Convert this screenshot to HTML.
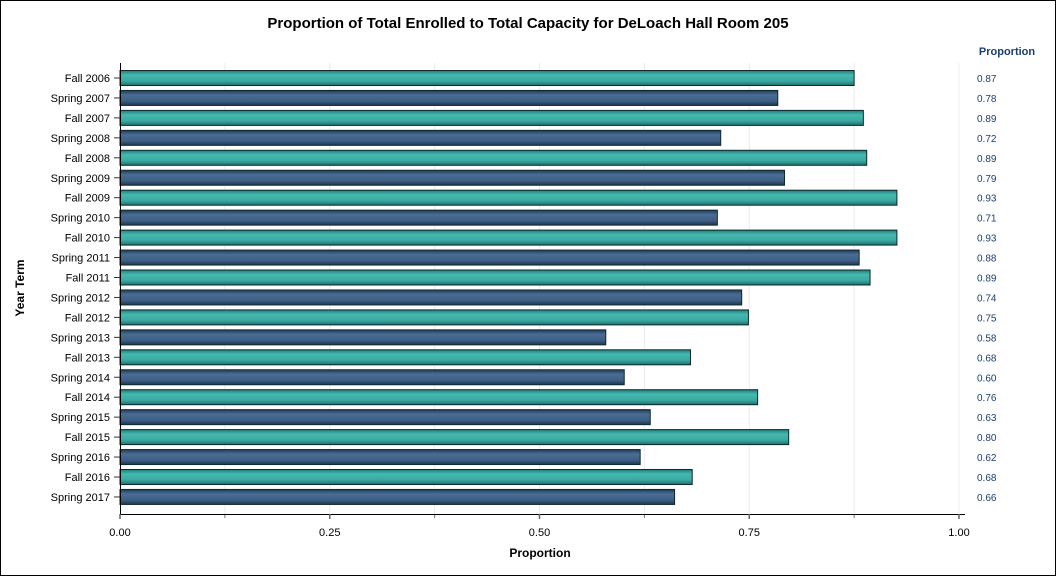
<!DOCTYPE html>
<html><head><meta charset="utf-8"><style>
body{margin:0;background:#fff;}
svg text{font-family:"Liberation Sans",sans-serif;}
</style></head><body>
<svg id="chart" width="1056" height="576">
<defs>
<linearGradient id="gT" x1="0" y1="0" x2="0" y2="1">
<stop offset="0" stop-color="#1f7d78"/><stop offset="0.3" stop-color="#45b8b0"/><stop offset="0.7" stop-color="#3aa9a1"/><stop offset="1" stop-color="#1d6f6b"/></linearGradient>
<linearGradient id="gB" x1="0" y1="0" x2="0" y2="1">
<stop offset="0" stop-color="#223b58"/><stop offset="0.3" stop-color="#4a6d93"/><stop offset="0.7" stop-color="#3d5f85"/><stop offset="1" stop-color="#1f3650"/></linearGradient>
</defs>
<rect x="0.5" y="0.5" width="1055" height="575" fill="#fff" stroke="#000"/>
<text x="528" y="28" text-anchor="middle" font-size="15" font-weight="bold">Proportion of Total Enrolled to Total Capacity for DeLoach Hall Room 205</text>
<g id="grid"></g><g id="bars"></g><g id="axes"></g>
<text x="1007" y="55" text-anchor="middle" font-size="11" font-weight="bold" fill="#1a3f6f">Proportion</text>
<text x="540" y="557" text-anchor="middle" font-size="12" font-weight="bold">Proportion</text>
<text transform="translate(24,288) rotate(-90)" text-anchor="middle" font-size="12" font-weight="bold">Year Term</text>
</svg>
<script>
const categories=["Fall 2006","Spring 2007","Fall 2007","Spring 2008","Fall 2008","Spring 2009","Fall 2009","Spring 2010","Fall 2010","Spring 2011","Fall 2011","Spring 2012","Fall 2012","Spring 2013","Fall 2013","Spring 2014","Fall 2014","Spring 2015","Fall 2015","Spring 2016","Fall 2016","Spring 2017"];
const values=[0.875,0.784,0.886,0.716,0.890,0.792,0.926,0.712,0.926,0.881,0.894,0.741,0.749,0.579,0.680,0.601,0.760,0.632,0.797,0.620,0.682,0.661];
const labels=["0.87","0.78","0.89","0.72","0.89","0.79","0.93","0.71","0.93","0.88","0.89","0.74","0.75","0.58","0.68","0.60","0.76","0.63","0.80","0.62","0.68","0.66"];
const xTicks=[0,0.25,0.5,0.75,1.0];
const xTickLabels=["0.00","0.25","0.50","0.75","1.00"];
const NS="http://www.w3.org/2000/svg";
const X0=120,X1=959,Y0=78,STEP=19.95,BH=15;
function xs(v){return X0+(X1-X0)*v;}
function ys(i){return Y0+i*STEP;}
function mk(tag,attrs,parent){const e=document.createElementNS(NS,tag);for(const k in attrs)e.setAttribute(k,attrs[k]);document.getElementById(parent).appendChild(e);return e;}
for(let t=0.125;t<=1.0001;t+=0.125){
 const g=mk('line',{x1:xs(t),x2:xs(t),y1:63,y2:514,stroke:'#ececec','stroke-width':1},'grid');
 
 
 const mt=mk('line',{x1:xs(t),x2:xs(t),y1:514,y2:518,stroke:'#777','stroke-width':1},'axes');
 
 
}
categories.forEach((c,i)=>{
 const y=ys(i);
 const r=mk('rect',{x:X0,y:y-BH/2,width:xs(values[i])-X0,height:BH,fill:i%2?'url(#gB)':'url(#gT)',stroke:'#0e2a2e','stroke-width':1},'bars');
 
 
 const t=mk('text',{x:110,y:y+4,'text-anchor':'end','font-size':11},'axes');t.textContent=c;
 
 
 const tk=mk('line',{x1:114,x2:120,y1:y,y2:y,stroke:'#333'},'axes');
 
 
 const v=mk('text',{x:977,y:y+4,'font-size':10,fill:'#1a3f6f'},'axes');v.textContent=labels[i];
 
 
});
const ya=mk('line',{x1:120.5,x2:120.5,y1:63,y2:514,stroke:'#000'},'axes');


const xa=mk('line',{x1:120,x2:965,y1:514.5,y2:514.5,stroke:'#000'},'axes');


xTicks.forEach((t,i)=>{
 const l=mk('line',{x1:xs(t),x2:xs(t),y1:514,y2:519,stroke:'#666','stroke-width':1.5},'axes');
 
 
 const tx=mk('text',{x:xs(t),y:536,'text-anchor':'middle','font-size':11},'axes');tx.textContent=xTickLabels[i];
 
 
});
</script>
</body></html>
